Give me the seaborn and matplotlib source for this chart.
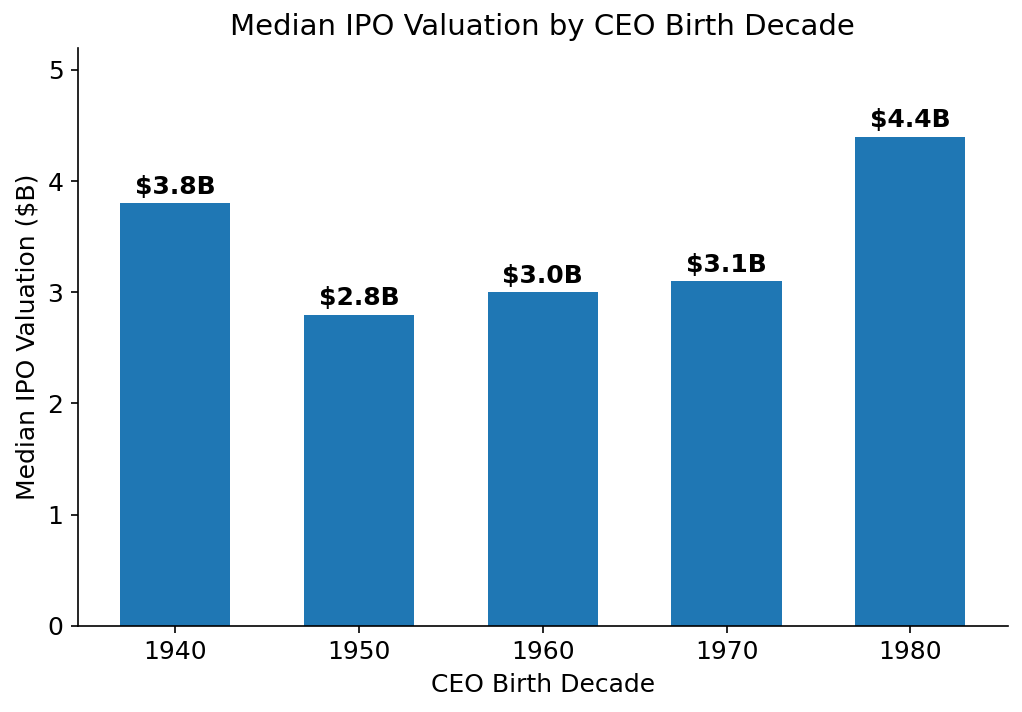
import numpy as np
import pandas as pd
import matplotlib
matplotlib.use("Agg")
import matplotlib.pyplot as plt
import seaborn as sns

decades = ["1940", "1950", "1960", "1970", "1980"]
valuations = [3.8, 2.8, 3.0, 3.1, 4.4]

df = pd.DataFrame({"decade": decades, "valuation": valuations})

plt.rcParams["font.family"] = ["DejaVu Sans"]

fig, ax = plt.subplots(figsize=(1022 / 150, 712 / 150), dpi=150)
sns.barplot(data=df, x="decade", y="valuation", color="#1f77b4", saturation=1,
            width=0.6, linewidth=0, ax=ax)

for bar, v in zip(ax.patches, valuations):
    ax.text(bar.get_x() + bar.get_width() / 2, v + 0.04, f"${v:.1f}B",
            ha="center", va="bottom", fontsize=12, fontweight="bold", color="black")

ax.set_xlim(-0.53, 4.53)
ax.set_ylim(0, 5.2)
ax.set_xlabel("CEO Birth Decade", fontsize=12)
ax.set_ylabel("Median IPO Valuation ($B)", fontsize=12)
ax.set_title("Median IPO Valuation by CEO Birth Decade", fontsize=14)
ax.tick_params(labelsize=12)
sns.despine()
fig.subplots_adjust(left=0.0763, right=0.986, bottom=0.121, top=0.933)
plt.savefig("out.png", dpi=150)
